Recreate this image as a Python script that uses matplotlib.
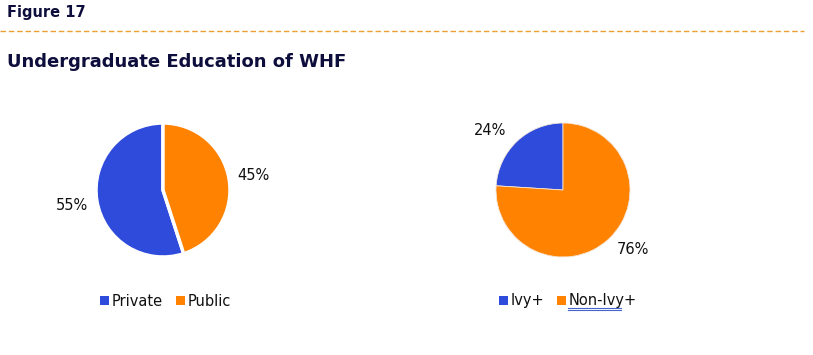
import matplotlib.pyplot as plt
from matplotlib.lines import Line2D

# data
edu_labels = ['Private', 'Public']
edu_values = [55, 45]
ivy_labels = ['Ivy+', 'Non-Ivy+']
ivy_values = [24, 76]

BLUE = '#2e4bdc'
ORANGE = '#ff8200'
NAVY = '#0e0e3c'

fig = plt.figure(figsize=(8.13, 3.55), dpi=100)
W, H = 813, 355


def fx(px):
    return px / W


def fy(py):
    return 1 - py / H


# header
fig.text(fx(7), fy(12), 'Figure 17', fontsize=10.5, fontweight='bold',
         color=NAVY, va='center', ha='left', family='DejaVu Sans')
fig.add_artist(Line2D([fx(0), fx(804)], [fy(31), fy(31)], color='#eea035',
                      lw=1.0, ls=(0, (4, 2))))
fig.text(fx(7), fy(62), 'Undergraduate Education of WHF', fontsize=13,
         fontweight='bold', color=NAVY, va='center', ha='left',
         family='DejaVu Sans')

r = 67 / W
rh = 67 / H


def draw_pie(cx, cy, values, lw, ec, label_pos):
    ax = fig.add_axes([fx(cx) - r, fy(cy) - rh, 2 * r, 2 * rh])
    ax.pie(values, colors=[BLUE, ORANGE], startangle=90, counterclock=True,
           wedgeprops=dict(edgecolor=ec, linewidth=lw))
    ax.set_aspect('equal')
    ax.set_xlim(-1, 1)
    ax.set_ylim(-1, 1)
    for v, (px, py) in zip(values, label_pos):
        fig.text(fx(px), fy(py), f'{v}%', fontsize=10.5, ha='center',
                 va='center', color='#111111', family='DejaVu Sans')
    return ax


draw_pie(163, 190, edu_values, 2.5, 'white', [(72, 206), (253, 175)])
draw_pie(563, 190, ivy_values, 0.6, '#f3e6d8', [(490, 131), (633, 250)])

# legends
for labels, xs in [(edu_labels, (100, 176)), (ivy_labels, (499, 557))]:
    for lab, col, x in zip(labels, [BLUE, ORANGE], xs):
        fig.patches.append(plt.Rectangle((fx(x), fy(305)), 9 / W, 9 / H,
                                         transform=fig.transFigure,
                                         facecolor=col, edgecolor='none'))
        fig.text(fx(x + 12), fy(301), lab, fontsize=10.5, ha='left',
                 va='center', color='#111111', family='DejaVu Sans')

# hyperlink-style underline under Non-Ivy+
for y in (308, 310):
    fig.add_artist(Line2D([fx(568), fx(621)], [fy(y), fy(y)],
                          color='#4466cc', lw=0.8))

fig.savefig('out.png', dpi=100, facecolor='white')
